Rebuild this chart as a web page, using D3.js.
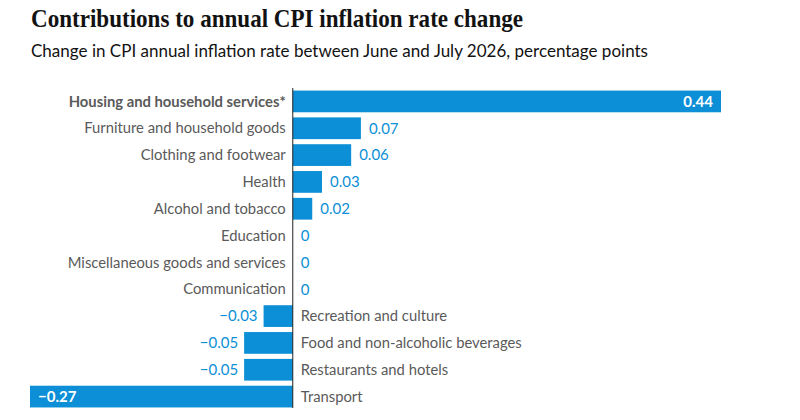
<!DOCTYPE html>
<html><head><meta charset="utf-8">
<script src="https://cdn.jsdelivr.net/npm/d3@7"></script>
<style>
html,body{margin:0;padding:0;background:#fff;}
svg{display:block;}
</style></head>
<body>
<svg id="c" width="800" height="420"></svg>
<script>
const titleText = "Contributions to annual CPI inflation rate change";
const subtitleText = "Change in CPI annual inflation rate between June and July 2026, percentage points";
const categories = [
  "Housing and household services*",
  "Furniture and household goods",
  "Clothing and footwear",
  "Health",
  "Alcohol and tobacco",
  "Education",
  "Miscellaneous goods and services",
  "Communication",
  "Recreation and culture",
  "Food and non-alcoholic beverages",
  "Restaurants and hotels",
  "Transport"
];
const values = [0.44, 0.07, 0.06, 0.03, 0.02, 0, 0, 0, -0.03, -0.05, -0.05, -0.27];
const valueLabels = ["0.44","0.07","0.06","0.03","0.02","0","0","0","\u22120.03","\u22120.05","\u22120.05","\u22120.27"];
const highlighted = ["Housing and household services*"];
const insideLabels = ["Housing and household services*", "Transport"];

const svg = d3.select("#c");
const blue = "#0c8fd6";
const grey = "#5a5a5a";
const sans = "Lato, 'Open Sans', sans-serif";

svg.append("text").attr("x", 31).attr("y", 27)
  .attr("font-family", "'Liberation Serif', serif").attr("font-weight", 700)
  .attr("font-size", 26).attr("fill", "#121212")
  .attr("textLength", 492).attr("lengthAdjust", "spacingAndGlyphs")
  .text(titleText);
svg.append("text").attr("x", 31).attr("y", 57)
  .attr("font-family", sans).attr("font-size", 16.5).attr("fill", "#121212")
  .attr("textLength", 617).attr("lengthAdjust", "spacingAndGlyphs")
  .text(subtitleText);

const x = d3.scaleLinear().domain([-0.27, 0.44]).range([30, 721]);
const y = d3.scaleBand().domain(categories).range([88, 410]).paddingInner(0.19).paddingOuter(0.095);
const x0 = x(0);

const data = categories.map((c, i) => ({c, v: values[i], lab: valueLabels[i]}));

svg.append("g").selectAll("rect").data(data).join("rect")
  .attr("x", d => x(Math.min(0, d.v)))
  .attr("width", d => Math.abs(x(d.v) - x0))
  .attr("y", d => y(d.c))
  .attr("height", y.bandwidth())
  .attr("fill", blue);

svg.append("line").attr("x1", x0).attr("x2", x0).attr("y1", 88).attr("y2", 408)
  .attr("stroke", "#222").attr("stroke-width", 1);

// category labels
svg.append("g").selectAll("text").data(data).join("text")
  .attr("x", d => d.v < 0 ? x0 + 8 : x0 - 7)
  .attr("y", d => y(d.c) + y.bandwidth() / 2)
  .attr("dy", "0.35em")
  .attr("text-anchor", d => d.v < 0 ? "start" : "end")
  .attr("font-family", sans).attr("font-size", 14.8)
  .attr("font-weight", d => highlighted.includes(d.c) ? 700 : 400)
  .attr("fill", grey)
  .text(d => d.c);

// value labels
svg.append("g").selectAll("text").data(data).join("text")
  .attr("x", d => {
    const inside = insideLabels.includes(d.c);
    if (d.v >= 0) return inside ? x(d.v) - 8 : x(d.v) + 8;
    return inside ? x(d.v) + 8 : x(d.v) - 6;
  })
  .attr("y", d => y(d.c) + y.bandwidth() / 2)
  .attr("dy", "0.35em")
  .attr("text-anchor", d => {
    const inside = insideLabels.includes(d.c);
    if (d.v >= 0) return inside ? "end" : "start";
    return inside ? "start" : "end";
  })
  .attr("font-family", sans).attr("font-size", 15)
  .attr("font-weight", d => insideLabels.includes(d.c) ? 700 : 400)
  .attr("fill", d => insideLabels.includes(d.c) ? "#fff" : blue)
  .text(d => d.lab);
</script>
</body></html>
